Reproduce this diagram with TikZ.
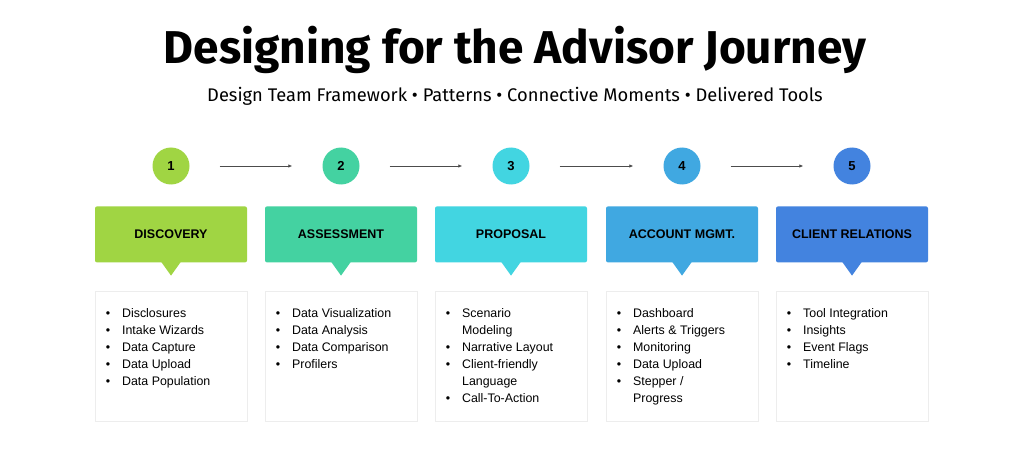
\documentclass[tikz,border=0pt]{standalone}
\usepackage{fontspec}
\setmainfont{Liberation Sans}
\newfontfamily\headfont{Fira Sans}
\usetikzlibrary{positioning}
\usetikzlibrary{arrows.meta}

\definecolor{stageA}{HTML}{A0D543}
\definecolor{stageB}{HTML}{44D2A1}
\definecolor{stageC}{HTML}{42D5E1}
\definecolor{stageD}{HTML}{40A8E1}
\definecolor{stageE}{HTML}{4383DF}
\definecolor{framegray}{HTML}{EDEDED}

\tikzset{
    num/.style={circle, minimum size=37pt, inner sep=0pt, font=\bfseries\fontsize{13}{13}\selectfont},
    stage/.style={minimum width=152pt, minimum height=56pt, inner sep=0pt, rounded corners=2pt, font=\bfseries\fontsize{12.5}{12.5}\selectfont},
    listbox/.style={draw=framegray, line width=0.8pt, minimum width=152pt, minimum height=130pt, inner sep=0pt},
    items/.style={inner sep=0pt, anchor=north west, font=\fontsize{12.4}{17}\selectfont},
    flow/.style={draw=black!70, line width=0.8pt, -{Latex[length=4pt,width=3.5pt]}, shorten <=30pt, shorten >=30pt}
}

\newcommand{\itembul}{\textbullet}

\begin{document}
\begin{tikzpicture}[x=1pt,y=-1pt]
    \useasboundingbox (0,0) rectangle (1024,457);
    \fill[white] (0,0) rectangle (1024,457);

    % heading
    \node (title) at (515,50) {\headfont\bfseries\fontsize{46}{46}\selectfont Designing for the Advisor Journey};
    \node (subtitle) at (515,96) {\headfont\fontsize{18.3}{18.3}\selectfont Design Team Framework \textbullet{} Patterns \textbullet{} Connective Moments \textbullet{} Delivered Tools};

    % steps
    \foreach \i/\x/\col/\name in {1/171/stageA/DISCOVERY, 2/341/stageB/ASSESSMENT, 3/511/stageC/PROPOSAL, 4/682/stageD/ACCOUNT MGMT., 5/852/stageE/CLIENT RELATIONS} {
        \node[num, fill=\col] (c\i) at (\x,166) {\i};
        \node[stage, fill=\col, below=21.5pt of c\i] (s\i) {\name};
        \fill[\col] ([xshift=-10pt,yshift=1pt]s\i.south) -- ([yshift=-13pt]s\i.south) -- ([xshift=10pt,yshift=1pt]s\i.south) -- cycle;
        \node[listbox, below=28.5pt of s\i] (l\i) {};
    }

    \foreach \i/\j in {1/2, 2/3, 3/4, 4/5}
        \draw[flow] (c\i) -- (c\j);

    % lists
    \node[items, below right=14pt and 11pt of l1.north west] (t1) {\begin{tabular}{@{}l@{\hspace{12pt}}l@{}}
        \itembul & Disclosures\\ \itembul & Intake Wizards\\ \itembul & Data Capture\\ \itembul & Data Upload\\ \itembul & Data Population
    \end{tabular}};
    \node[items, below right=14pt and 11pt of l2.north west] (t2) {\begin{tabular}{@{}l@{\hspace{12pt}}l@{}}
        \itembul & Data Visualization\\ \itembul & Data Analysis\\ \itembul & Data Comparison\\ \itembul & Profilers
    \end{tabular}};
    \node[items, below right=14pt and 11pt of l3.north west] (t3) {\begin{tabular}{@{}l@{\hspace{12pt}}l@{}}
        \itembul & Scenario\\ & Modeling\\ \itembul & Narrative Layout\\ \itembul & Client-friendly\\ & Language\\ \itembul & Call-To-Action
    \end{tabular}};
    \node[items, below right=14pt and 11pt of l4.north west] (t4) {\begin{tabular}{@{}l@{\hspace{12pt}}l@{}}
        \itembul & Dashboard\\ \itembul & Alerts \& Triggers\\ \itembul & Monitoring\\ \itembul & Data Upload\\ \itembul & Stepper /\\ & Progress
    \end{tabular}};
    \node[items, below right=14pt and 11pt of l5.north west] (t5) {\begin{tabular}{@{}l@{\hspace{12pt}}l@{}}
        \itembul & Tool Integration\\ \itembul & Insights\\ \itembul & Event Flags\\ \itembul & Timeline
    \end{tabular}};
\end{tikzpicture}
\end{document}
